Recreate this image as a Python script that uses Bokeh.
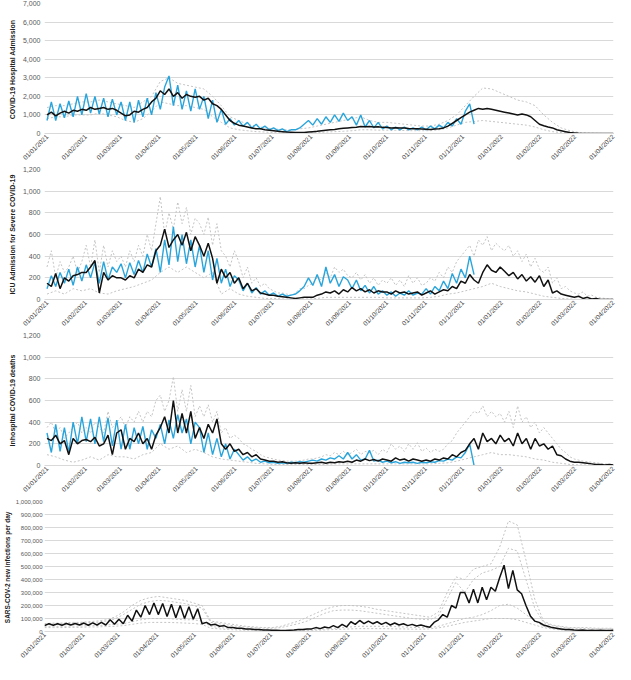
import math
import pandas as pd
from bokeh.plotting import figure
from bokeh.layouts import column
from bokeh.models import Range1d, FixedTicker, DatetimeTickFormatter, NumeralTickFormatter
from bokeh.embed import file_html
from bokeh.resources import INLINE

START = "2021-01-01"
TICK_LABELS = ["01/01/2021", "01/02/2021", "01/03/2021", "01/04/2021", "01/05/2021",
               "01/06/2021", "01/07/2021", "01/08/2021", "01/09/2021", "01/10/2021",
               "01/11/2021", "01/12/2021", "01/01/2022", "01/02/2022", "01/03/2022",
               "01/04/2022"]

TITLES = ["COVID-19  Hospital Admission", "ICU Admission for Severe COVID-19",
          "Inhospital COVID-19 deaths", "SARS-COV-2  new infections per day"]
Y_MAX = [7000, 1200, 1200, 1000000]
Y_STEP = [1000, 200, 200, 100000]

# ---- series sampled every half week (3.5 days) from 01/01/2021 ----
# Panel 1: hospital admission
hosp_model = [
    1000, 1150, 950, 1100, 1200, 1100, 1250, 1200, 1300,      # Jan
    1250, 1400, 1300, 1350, 1400, 1300, 1350, 1250,           # Feb
    1100, 950, 1000, 1200, 1150, 1300, 1400, 1700, 1900,      # Mar
    2300, 2100, 2400, 2000, 2200, 1900, 2100, 2000, 1950,     # Apr
    2000, 1800, 1900, 1600, 1500, 1300, 1000, 700, 550,       # May
    450, 400, 350, 300, 250, 250, 200, 180,                   # Jun
    150, 120, 100, 80, 70, 60, 50, 60, 80,                    # Jul
    100, 120, 150, 180, 200, 220, 250, 280, 300,              # Aug
    320, 340, 380, 360, 380, 350, 360, 330,                   # Sep
    320, 300, 310, 290, 300, 270, 260, 250, 240,              # Oct
    230, 220, 240, 250, 300, 400, 550, 700, 850,              # Nov
    1000, 1150, 1250, 1350, 1300, 1350, 1300, 1250, 1200,     # Dec
    1150, 1100, 1050, 1000, 1050, 1000, 900, 700, 500,        # Jan 22
    420, 350, 300, 200, 150, 100, 50, 30,                     # Feb 22
    10, 5, 5, 0, 0, 0, 0, 0, 0,                               # Mar 22
]
hosp_obs = [
    700, 1700, 700, 1600, 850, 1750, 900, 2000, 1000,         # Jan
    2150, 1100, 2000, 1050, 1900, 900, 1850, 1000,            # Feb
    1700, 700, 1700, 600, 1800, 900, 1900, 1000, 2200,        # Mar
    1300, 2500, 3100, 1500, 2600, 1300, 2300, 1200, 2400,     # Apr
    1300, 2000, 800, 1800, 600, 1300, 500, 800, 450,          # May
    700, 400, 600, 300, 500, 250, 400, 200,                   # Jun
    300, 150, 250, 100, 200, 200, 300, 500, 700,              # Jul
    450, 800, 500, 900, 600, 1000, 650, 1100, 700,            # Aug
    900, 450, 1000, 350, 700, 300, 600, 250,                  # Sep
    400, 200, 350, 200, 350, 200, 300, 200, 350,              # Oct
    200, 400, 250, 450, 300, 600, 400, 800, 500,              # Nov
    1200, 1600, 500,                                          # Dec
]

# Panel 2: ICU admission
icu_model = [
    150, 120, 240, 100, 200, 170, 220, 230, 250,              # Jan
    250, 300, 360, 60, 250, 180, 220, 200,                    # Feb
    200, 180, 220, 200, 280, 250, 320, 300, 450,              # Mar
    500, 650, 480, 550, 600, 500, 620, 450, 580,              # Apr
    500, 400, 520, 380, 150, 280, 200, 250, 150,              # May
    200, 100, 150, 80, 100, 60, 50, 40,                       # Jun
    40, 30, 25, 20, 15, 10, 15, 20, 20,                       # Jul
    20, 40, 50, 70, 60, 80, 50, 90, 70,                       # Aug
    110, 80, 100, 70, 90, 60, 80, 70,                         # Sep
    70, 50, 80, 60, 70, 50, 60, 70, 40,                       # Oct
    60, 80, 50, 70, 90, 80, 120, 100, 170,                    # Nov
    150, 230, 180, 150, 250, 320, 270, 250, 300,              # Dec
    260, 220, 250, 190, 230, 170, 210, 160, 220,              # Jan 22
    120, 180, 60, 80, 50, 40, 30, 20,                         # Feb 22
    30, 10, 20, 5, 10, 0, 0, 0, 0,                            # Mar 22
]
icu_obs = [
    100, 220, 120, 250, 150, 280, 130, 300, 170,              # Jan
    320, 200, 340, 150, 350, 180, 300, 250,                   # Feb
    330, 200, 340, 230, 360, 250, 420, 300, 470,              # Mar
    250, 550, 320, 670, 350, 600, 330, 550, 300,              # Apr
    500, 250, 450, 180, 380, 150, 280, 120, 220,              # May
    180, 80, 150, 60, 110, 50, 80, 40,                        # Jun
    60, 30, 50, 30, 40, 50, 80, 120, 200,                     # Jul
    130, 230, 120, 300, 150, 230, 120, 210, 180,              # Aug
    100, 180, 80, 130, 60, 120, 50, 80,                       # Sep
    40, 70, 30, 60, 40, 80, 40, 60, 50,                       # Oct
    100, 50, 120, 80, 170, 100, 240, 150, 280,                # Nov
    200, 400, 230,                                            # Dec
]
icu_upper = [
    300, 450, 200, 350, 250, 300, 400, 250, 350,              # Jan
    500, 300, 550, 250, 500, 300, 450, 350,                   # Feb
    400, 300, 450, 350, 500, 400, 600, 450, 700,              # Mar
    950, 600, 800, 650, 900, 700, 850, 600, 750,              # Apr
    700, 600, 760, 500, 700, 450, 400, 300, 450,              # May
    350, 200, 300, 150, 200, 120, 150, 100,                   # Jun
    80, 60, 60, 50, 40, 60, 100, 100, 130,                    # Jul
    150, 200, 180, 250, 200, 300, 250, 280, 220,              # Aug
    200, 250, 180, 230, 150, 200, 130, 180,                   # Sep
    150, 200, 130, 180, 120, 220, 150, 200, 130,              # Oct
    150, 200, 170, 250, 200, 300, 250, 350, 400,              # Nov
    450, 500, 400, 550, 500, 580, 450, 520, 480,              # Dec
    450, 500, 400, 450, 350, 420, 300, 380, 280,              # Jan 22
    250, 300, 150, 200, 100, 120, 80, 60,                     # Feb 22
    50, 70, 30, 40, 20, 15, 10, 5, 5,                         # Mar 22
]

# Panel 3: in-hospital deaths
death_model = [
    250, 230, 280, 200, 230, 100, 250, 200, 230,              # Jan
    240, 220, 260, 180, 200, 280, 100, 300,                   # Feb
    330, 150, 250, 220, 300, 200, 250, 150, 280,              # Mar
    350, 450, 300, 600, 300, 480, 300, 500, 250,              # Apr
    350, 250, 380, 300, 430, 200, 150, 200, 130,              # May
    150, 100, 120, 80, 100, 60, 50, 40,                       # Jun
    40, 30, 35, 25, 20, 25, 20, 25, 20,                       # Jul
    20, 25, 30, 20, 30, 25, 35, 30, 40,                       # Aug
    30, 50, 40, 60, 45, 55, 40, 60,                           # Sep
    50, 40, 70, 50, 60, 40, 60, 50, 40,                       # Oct
    50, 40, 60, 50, 70, 60, 100, 80, 120,                     # Nov
    140, 200, 250, 150, 300, 220, 250, 200, 280,              # Dec
    220, 250, 180, 300, 200, 250, 150, 250, 180,              # Jan 22
    200, 150, 180, 100, 90, 60, 40, 30,                       # Feb 22
    30, 25, 20, 15, 10, 10, 5, 10, 5,                         # Mar 22
]
death_obs = [
    300, 120, 380, 130, 350, 120, 400, 200, 450,              # Jan
    220, 430, 200, 450, 220, 440, 180, 420,                   # Feb
    150, 380, 150, 350, 200, 360, 150, 330, 250,              # Mar
    380, 200, 420, 250, 470, 300, 430, 200, 400,              # Apr
    350, 120, 300, 100, 250, 80, 200, 60, 150,                # May
    100, 50, 80, 40, 60, 30, 40, 25,                          # Jun
    30, 20, 25, 20, 30, 25, 35, 30, 40,                       # Jul
    50, 40, 60, 50, 70, 60, 90, 60, 120,                      # Aug
    60, 100, 50, 60, 140, 40, 50, 30,                         # Sep
    40, 25, 35, 20, 30, 25, 30, 20, 30,                       # Oct
    25, 35, 30, 45, 40, 60, 50, 80, 70,                       # Nov
    120, 200, 0,                                              # Dec
]
death_upper = [
    350, 400, 300, 350, 250, 300, 350, 400, 300,              # Jan
    350, 300, 400, 350, 300, 500, 350, 400,                   # Feb
    450, 350, 450, 400, 500, 400, 500, 450, 600,              # Mar
    650, 500, 600, 820, 500, 700, 500, 740, 450,              # Apr
    550, 450, 560, 400, 500, 300, 350, 250, 280,              # May
    250, 200, 180, 150, 130, 100, 80, 70,                     # Jun
    60, 50, 45, 40, 40, 40, 45, 50, 60,                       # Jul
    60, 70, 80, 100, 90, 120, 100, 130, 100,                  # Aug
    120, 150, 100, 130, 120, 140, 100, 150,                   # Sep
    120, 200, 150, 180, 130, 200, 150, 210, 130,              # Oct
    160, 120, 150, 130, 150, 200, 230, 300, 350,              # Nov
    400, 450, 500, 480, 550, 450, 500, 450, 480,              # Dec
    400, 500, 350, 550, 400, 450, 350, 400, 300,              # Jan 22
    350, 300, 250, 200, 150, 120, 80, 60,                     # Feb 22
    50, 40, 35, 30, 25, 20, 15, 10, 10,                       # Mar 22
]

# Panel 4: new infections (model only)
inf_model = [
    45000, 60000, 48000, 60000, 48000, 62000, 50000, 62000, 50000,             # Jan
    65000, 48000, 66000, 50000, 70000, 50000, 90000, 55000,                    # Feb
    95000, 60000, 125000, 80000, 165000, 110000, 200000, 130000, 220000,       # Mar
    130000, 215000, 115000, 210000, 105000, 200000, 100000, 190000, 95000,     # Apr
    175000, 60000, 70000, 50000, 55000, 40000, 45000, 30000, 30000,            # May
    25000, 25000, 20000, 20000, 15000, 15000, 12000, 12000,                    # Jun
    10000, 10000, 8000, 8000, 10000, 12000, 15000, 15000, 20000,               # Jul
    20000, 30000, 22000, 35000, 28000, 45000, 30000, 55000, 35000,             # Aug
    75000, 55000, 85000, 60000, 80000, 60000, 75000, 55000,                    # Sep
    70000, 50000, 65000, 50000, 60000, 45000, 55000, 42000, 50000,             # Oct
    40000, 32000, 70000, 90000, 130000, 110000, 200000, 180000, 300000,        # Nov
    300000, 220000, 325000, 220000, 340000, 245000, 340000, 310000, 415000,    # Dec
    510000, 330000, 470000, 320000, 290000, 200000, 120000, 80000, 70000,      # Jan 22
    50000, 40000, 30000, 25000, 20000, 15000, 15000, 12000,                    # Feb 22
    10000, 12000, 8000, 10000, 8000, 10000, 8000, 8000, 10000,                 # Mar 22
]

# ---- series sampled weekly from 01/01/2021 ----
hosp_upper = [
    1400, 1500, 1500, 1600, 1700,   # Jan
    1700, 1800, 1700, 1600,         # Feb
    1500, 1400, 1700, 2000,         # Mar
    2800, 3000, 2700, 2600, 2500,   # Apr
    2400, 2000, 1500, 900,          # May
    700, 500, 400, 300,             # Jun
    250, 200, 200, 250, 300,        # Jul
    400, 500, 600, 700,             # Aug
    800, 900, 700, 600,             # Sep
    600, 550, 500, 450, 400,        # Oct
    400, 500, 700, 1000,            # Nov
    1500, 2000, 2450, 2400, 2200,   # Dec
    2000, 1800, 1700, 1500,         # Jan 22
    1000, 600, 300, 150,            # Feb 22
    50, 20, 10, 0,                  # Mar 22
    0,                              # Apr 22
]
hosp_lower = [
    800, 900, 900, 1000, 1000,
    1000, 1100, 1000, 900,
    700, 600, 800, 1200,
    1700, 1600, 1500, 1500, 1400,
    1300, 900, 600, 300,
    200, 150, 100, 80,
    50, 30, 20, 20, 30,
    50, 80, 100, 120,
    150, 200, 200, 180,
    180, 170, 160, 150, 150,
    150, 200, 300, 450,
    600, 650, 700, 650, 600,
    550, 500, 450, 350,
    200, 100, 50, 20,
    0, 0, 0, 0,
    0,
]
icu_lower = [
    50, 80, 50, 100, 80,
    100, 60, 50, 80,
    100, 120, 150, 180,
    250, 300, 250, 300, 250,
    200, 250, 50, 100,
    50, 30, 20, 10,
    10, 5, 5, 5, 5,
    10, 20, 20, 20,
    20, 20, 20, 20,
    15, 15, 15, 15, 15,
    20, 30, 50, 60,
    80, 100, 120, 150, 120,
    100, 80, 70, 50,
    30, 20, 10, 5,
    0, 0, 0, 0,
    0,
]
death_lower = [
    100, 80, 50, 30, 50,
    80, 50, 100, 80,
    80, 60, 100, 120,
    200, 150, 180, 120, 150,
    120, 80, 60, 50,
    40, 30, 20, 15,
    10, 10, 8, 8, 8,
    10, 10, 15, 15,
    15, 15, 15, 15,
    15, 15, 15, 15, 15,
    15, 20, 25, 40,
    60, 80, 100, 120, 100,
    100, 90, 80, 60,
    50, 30, 20, 10,
    5, 5, 0, 0,
    0,
]
inf_upper1 = [
    60000, 65000, 65000, 70000, 70000,
    75000, 80000, 90000, 110000,
    150000, 200000, 240000, 260000,
    270000, 260000, 250000, 240000, 220000,
    200000, 80000, 70000, 60000,
    50000, 40000, 35000, 30000,
    30000, 40000, 60000, 80000, 110000,
    140000, 170000, 190000, 200000,
    200000, 195000, 185000, 170000,
    160000, 150000, 140000, 130000, 120000,
    110000, 150000, 300000, 420000,
    400000, 480000, 500000, 520000, 650000,
    850000, 820000, 550000, 250000,
    80000, 50000, 40000, 30000,
    30000, 30000, 25000, 25000,
    25000,
]
inf_upper2 = [
    55000, 60000, 60000, 62000, 65000,
    68000, 70000, 80000, 95000,
    130000, 170000, 210000, 230000,
    240000, 235000, 225000, 215000, 200000,
    180000, 70000, 60000, 50000,
    40000, 35000, 30000, 25000,
    25000, 30000, 45000, 60000, 80000,
    110000, 140000, 160000, 165000,
    165000, 160000, 150000, 140000,
    130000, 120000, 110000, 100000, 95000,
    90000, 120000, 250000, 380000,
    300000, 400000, 450000, 470000, 500000,
    640000, 620000, 400000, 180000,
    70000, 45000, 35000, 25000,
    25000, 22000, 20000, 20000,
    20000,
]
inf_lower1 = [
    40000, 40000, 40000, 42000, 42000,
    45000, 45000, 50000, 55000,
    60000, 75000, 90000, 100000,
    100000, 100000, 95000, 90000, 90000,
    80000, 40000, 30000, 25000,
    20000, 15000, 12000, 10000,
    8000, 8000, 8000, 10000, 12000,
    15000, 20000, 25000, 30000,
    35000, 40000, 40000, 40000,
    40000, 38000, 35000, 32000, 30000,
    30000, 40000, 60000, 80000,
    100000, 110000, 130000, 160000, 200000,
    210000, 180000, 130000, 80000,
    40000, 25000, 15000, 10000,
    8000, 8000, 6000, 6000,
    5000,
]
inf_lower2 = [
    30000, 30000, 30000, 32000, 32000,
    35000, 35000, 38000, 40000,
    45000, 55000, 65000, 70000,
    70000, 70000, 68000, 65000, 62000,
    55000, 25000, 20000, 15000,
    12000, 10000, 8000, 6000,
    5000, 5000, 5000, 6000, 8000,
    10000, 12000, 15000, 18000,
    20000, 22000, 22000, 22000,
    22000, 20000, 20000, 18000, 18000,
    20000, 28000, 40000, 55000,
    70000, 80000, 90000, 100000, 100000,
    100000, 90000, 70000, 50000,
    30000, 20000, 12000, 8000,
    6000, 6000, 5000, 5000,
    5000,
]

BLACK = "#111111"
BLUE = "#2AA5DC"
GREY = "#C4C4C4"
FONT = "Liberation Sans"


def half_week(vals):
    return pd.date_range(START, periods=len(vals), freq="84h")


def weekly(vals):
    return pd.date_range(START, periods=len(vals), freq="7D")


tick_dates = [pd.to_datetime(t, format="%d/%m/%Y") for t in TICK_LABELS]
tick_ms = [int(d.value // 10**6) for d in tick_dates]


def make_panel(idx, model, obs=None, grey_hw=(), grey_w=(), tick_size="7px",
               title_size="7px", border_left=37, border_right=2, pad_days=2,
               label_standoff=4, title_standoff=4):
    p = figure(width=615, height=166, output_backend="svg", toolbar_location=None,
               x_axis_type="datetime",
               x_range=Range1d(tick_dates[0] - pd.Timedelta(days=pad_days), tick_dates[-1]),
               y_range=Range1d(0, Y_MAX[idx]),
               min_border_left=border_left, min_border_right=border_right,
               min_border_top=3, min_border_bottom=4)
    p.outline_line_color = None
    p.background_fill_color = "white"
    p.xgrid.grid_line_color = None
    p.ygrid.grid_line_color = "#D9D9D9"
    p.ygrid.grid_line_width = 1

    yt = list(range(0, Y_MAX[idx] + 1, Y_STEP[idx]))
    p.yaxis.ticker = FixedTicker(ticks=yt)
    p.yaxis.formatter = NumeralTickFormatter(format="0,0")
    p.yaxis.axis_line_color = None
    p.yaxis.major_tick_line_color = None
    p.yaxis.minor_tick_line_color = None
    p.yaxis.major_tick_out = 0
    p.yaxis.major_tick_in = 0
    p.yaxis.minor_tick_out = 0
    p.yaxis.minor_tick_in = 0
    p.yaxis.major_label_text_font = FONT
    p.yaxis.major_label_text_font_size = tick_size
    p.yaxis.major_label_text_color = "#595959"
    p.yaxis.major_label_standoff = label_standoff
    p.yaxis.axis_label = TITLES[idx]
    p.yaxis.axis_label_text_font = FONT
    p.yaxis.axis_label_text_font_size = title_size
    p.yaxis.axis_label_text_font_style = "bold"
    p.yaxis.axis_label_text_color = "#222222"
    p.yaxis.axis_label_standoff = title_standoff

    p.xaxis.ticker = FixedTicker(ticks=tick_ms)
    fmt = "%d/%m/%Y"
    p.xaxis.formatter = DatetimeTickFormatter(
        milliseconds=fmt, seconds=fmt, minsec=fmt, minutes=fmt, hourmin=fmt,
        hours=fmt, days=fmt, months=fmt, years=fmt)
    p.xaxis.axis_line_color = "#D9D9D9"
    p.xaxis.major_tick_line_color = None
    p.xaxis.minor_tick_line_color = None
    p.xaxis.major_tick_out = 0
    p.xaxis.major_tick_in = 0
    p.xaxis.minor_tick_out = 0
    p.xaxis.minor_tick_in = 0
    p.xaxis.major_label_orientation = math.pi / 4
    p.xaxis.major_label_text_font = FONT
    p.xaxis.major_label_text_font_size = "6.5px"
    p.xaxis.major_label_text_color = "#404040"
    p.xaxis.major_label_standoff = 2

    for g in grey_hw:
        p.line(half_week(g), g, line_color=GREY, line_width=1, line_dash="2 2")
    for g in grey_w:
        p.line(weekly(g), g, line_color=GREY, line_width=1, line_dash="2 2")
    if obs is not None:
        p.line(half_week(obs), obs, line_color=BLUE, line_width=1.4)
    p.line(half_week(model), model, line_color=BLACK, line_width=1.5)
    return p


p1 = make_panel(0, hosp_model, hosp_obs, grey_w=(hosp_upper, hosp_lower))
p2 = make_panel(1, icu_model, icu_obs, grey_hw=(icu_upper,), grey_w=(icu_lower,))
p3 = make_panel(2, death_model, death_obs, grey_hw=(death_upper,), grey_w=(death_lower,))
p4 = make_panel(3, inf_model, None, grey_w=(inf_upper1, inf_upper2, inf_lower1, inf_lower2),
                tick_size="6px", title_size="6.5px", border_left=30, border_right=0,
                pad_days=0, label_standoff=2, title_standoff=2)

layout = column(p1, p2, p3, p4, spacing=0)
open("out.html", "w").write(file_html(layout, INLINE))
